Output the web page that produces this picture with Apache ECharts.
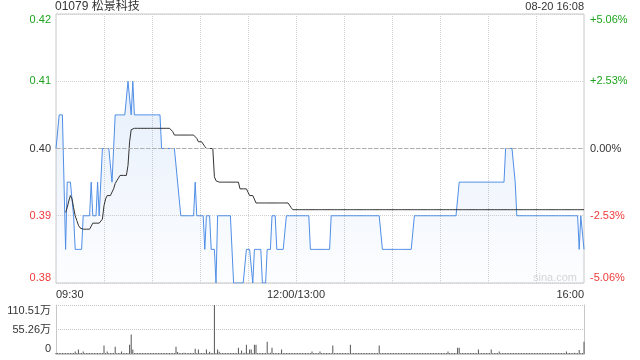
<!DOCTYPE html>
<html>
<head>
<meta charset="utf-8">
<script src="https://cdn.jsdelivr.net/npm/echarts@6/dist/echarts.min.js"></script>
<style>html,body{margin:0;padding:0;background:#fff}#c{width:640px;height:360px}</style>
</head>
<body>
<div id="c"></div>
<script>
const titleText = '01079 松景科技';
const stampText = '08-20 16:08';
const prevClose = 0.40;
const priceTicks = [0.38, 0.39, 0.40, 0.41, 0.42];
const pctLabels = ['-5.06%', '-2.53%', '0.00%', '+2.53%', '+5.06%'];
const volTickLabels = ['0', '55.26万', '110.51万'];
const volMax = 110.51;
const xTickIdx = [0, 150, 330];

// minute price, 09:30 .. 16:00 (331 points, 12:00/13:00 merged)
const price = [
0.40,0.40,0.405,0.405,0.405,0.405,0.385,0.395,0.395,0.395,
0.395,0.39,0.385,0.385,0.385,0.385,0.385,0.39,0.39,0.39,
0.39,0.39,0.395,0.39,0.39,0.39,0.395,0.39,0.39,0.40,
0.40,0.40,0.40,0.40,0.40,0.395,0.40,0.405,0.405,0.405,
0.405,0.405,0.405,0.405,0.405,0.41,0.41,0.405,0.41,0.405,
0.405,0.405,0.405,0.405,0.405,0.405,0.405,0.405,0.405,0.405,
0.405,0.405,0.405,0.405,0.405,0.405,0.40,0.40,0.40,0.40,
0.40,0.40,0.40,0.40,0.40,0.40,0.395,0.395,0.39,0.39,
0.39,0.39,0.39,0.39,0.39,0.39,0.39,0.395,0.39,0.39,
0.39,0.39,0.39,0.385,0.39,0.39,0.39,0.385,0.385,0.385,
0.38,0.39,0.39,0.39,0.39,0.39,0.39,0.39,0.39,0.39,
0.39,0.38,0.38,0.38,0.38,0.38,0.38,0.38,0.38,0.385,
0.385,0.385,0.385,0.38,0.385,0.385,0.385,0.385,0.385,0.38,
0.38,0.38,0.385,0.385,0.385,0.39,0.39,0.39,0.385,0.385,
0.385,0.385,0.385,0.385,0.39,0.39,0.39,0.39,0.39,0.39,
0.39,0.39,0.39,0.39,0.39,0.39,0.39,0.39,0.39,0.385,
0.385,0.385,0.385,0.385,0.385,0.385,0.385,0.385,0.385,0.385,
0.385,0.385,0.39,0.39,0.39,0.39,0.39,0.39,0.39,0.39,
0.39,0.39,0.39,0.39,0.39,0.39,0.39,0.39,0.39,0.39,
0.39,0.39,0.39,0.39,0.39,0.39,0.39,0.39,0.39,0.39,
0.39,0.39,0.39,0.39,0.385,0.385,0.385,0.385,0.385,0.385,
0.385,0.385,0.385,0.385,0.385,0.385,0.385,0.385,0.385,0.385,
0.385,0.385,0.385,0.385,0.39,0.39,0.39,0.39,0.39,0.39,
0.39,0.39,0.39,0.39,0.39,0.39,0.39,0.39,0.39,0.39,
0.39,0.39,0.39,0.39,0.39,0.39,0.39,0.39,0.39,0.39,
0.39,0.39,0.395,0.395,0.395,0.395,0.395,0.395,0.395,0.395,
0.395,0.395,0.395,0.395,0.395,0.395,0.395,0.395,0.395,0.395,
0.395,0.395,0.395,0.395,0.395,0.395,0.395,0.395,0.395,0.395,
0.395,0.40,0.40,0.40,0.40,0.40,0.40,0.395,0.39,0.39,
0.39,0.39,0.39,0.39,0.39,0.39,0.39,0.39,0.39,0.39,
0.39,0.39,0.39,0.39,0.39,0.39,0.39,0.39,0.39,0.39,
0.39,0.39,0.39,0.39,0.39,0.39,0.39,0.39,0.39,0.39,
0.39,0.39,0.39,0.39,0.39,0.39,0.39,0.385,0.39,0.39,
0.385
];

// average price line
const avgPrice = [
null,null,null,null,null,null,0.3905,0.3912,0.3922,0.3930,
0.3925,0.3912,0.3900,0.3893,0.3886,0.3882,0.3880,0.3880,0.3880,0.3880,
0.3880,0.3880,0.3880,0.3889,0.3889,0.3889,0.3889,0.3889,0.3889,0.3895,
0.3915,0.3925,0.3930,0.3930,0.3930,0.3930,0.3940,0.3948,0.3952,0.3956,
0.3960,0.3960,0.3960,0.3960,0.3960,0.3975,0.4010,0.4028,0.4030,0.4030,
0.4030,0.4030,0.4030,0.4030,0.4030,0.4030,0.4030,0.4030,0.4030,0.4030,
0.4030,0.4030,0.4030,0.4030,0.4030,0.4030,0.4030,0.4030,0.4030,0.4030,
0.4030,0.4030,0.4030,0.4025,0.4020,0.4020,0.4020,0.4020,0.4020,0.4020,
0.4020,0.4020,0.4020,0.4020,0.4020,0.4020,0.4020,0.4020,0.4015,0.4010,
0.4010,0.4010,0.4010,0.4003,0.4000,0.4000,0.4000,0.4000,0.4000,0.3958,
0.3952,0.3950,0.3950,0.3950,0.3950,0.3950,0.3950,0.3950,0.3950,0.3950,
0.3950,0.3950,0.3950,0.3950,0.3950,0.3940,0.3940,0.3940,0.3940,0.3940,
0.3935,0.3930,0.3930,0.3930,0.3930,0.3919,0.3919,0.3919,0.3919,0.3919,
0.3919,0.3919,0.3919,0.3919,0.3919,0.3919,0.3919,0.3919,0.3919,0.3919,
0.3919,0.3919,0.3919,0.3919,0.3919,0.3919,0.3919,0.3912,0.3909,0.3909,
0.3909,0.3909,0.3909,0.3909,0.3909,0.3909,0.3909,0.3909,0.3909,0.3909,
0.3909,0.3909,0.3909,0.3909,0.3909,0.3909,0.3909,0.3909,0.3909,0.3909,
0.3909,0.3909,0.3909,0.3909,0.3909,0.3909,0.3909,0.3909,0.3909,0.3909,
0.3909,0.3909,0.3909,0.3909,0.3909,0.3909,0.3909,0.3909,0.3909,0.3909,
0.3909,0.3909,0.3909,0.3909,0.3909,0.3909,0.3909,0.3909,0.3909,0.3909,
0.3909,0.3909,0.3909,0.3909,0.3909,0.3909,0.3909,0.3909,0.3909,0.3909,
0.3909,0.3909,0.3909,0.3909,0.3909,0.3909,0.3909,0.3909,0.3909,0.3909,
0.3909,0.3909,0.3909,0.3909,0.3909,0.3909,0.3909,0.3909,0.3909,0.3909,
0.3909,0.3909,0.3909,0.3909,0.3909,0.3909,0.3909,0.3909,0.3909,0.3909,
0.3909,0.3909,0.3909,0.3909,0.3909,0.3909,0.3909,0.3909,0.3909,0.3909,
0.3909,0.3909,0.3909,0.3909,0.3909,0.3909,0.3909,0.3909,0.3909,0.3909,
0.3909,0.3909,0.3909,0.3909,0.3909,0.3909,0.3909,0.3909,0.3909,0.3909,
0.3909,0.3909,0.3909,0.3909,0.3909,0.3909,0.3909,0.3909,0.3909,0.3909,
0.3909,0.3909,0.3909,0.3909,0.3909,0.3909,0.3909,0.3909,0.3909,0.3909,
0.3909,0.3909,0.3909,0.3909,0.3909,0.3909,0.3909,0.3909,0.3909,0.3909,
0.3909,0.3909,0.3909,0.3909,0.3909,0.3909,0.3909,0.3909,0.3909,0.3909,
0.3909,0.3909,0.3909,0.3909,0.3909,0.3909,0.3909,0.3909,0.3909,0.3909,
0.3909,0.3909,0.3909,0.3909,0.3909,0.3909,0.3909,0.3909,0.3909,0.3909,
0.3909
];

// minute volume, 万股
const volume = [
1.2,0.8,1.5,0.6,1.0,0.9,2.0,1.1,0.7,1.3,
0.9,1.4,5.5,1.0,10,1.2,0.8,5.5,1.1,0.6,
1.0,1.3,0.9,1.2,0.7,1.5,1.0,0.8,1.2,0.9,
19,1.1,5.5,0.8,1.3,1.0,0.7,16.5,1.2,0.9,
1.0,5.5,0.8,1.2,1.4,0.9,21,44,10,1.1,
0.8,1.0,1.3,0.7,1.1,0.9,1.2,0.6,1.0,1.4,
0.9,1.2,0.8,1.0,1.3,0.7,1.1,0.9,1.2,0.8,
1.0,1.3,0.7,1.1,0.9,16.5,4.5,1.0,1.2,0.8,
3.0,1.1,0.9,1.3,0.7,1.0,1.2,12,0.8,10,
1.1,0.9,1.3,1.0,10,0.8,5,1.2,0.9,110.51,
1.1,10,5,0.9,1.3,0.7,1.1,1.0,0.8,1.2,
0.9,1.3,1.0,0.7,14,1.1,8,1.2,3.0,21,
1.0,10,10,2.5,21,21,1.3,0.8,1.1,0.9,
2.0,1.0,27.5,1.2,3.0,14,1.1,0.8,1.3,2.5,
1.0,10,0.9,1.2,0.8,2.5,1.1,0.7,1.3,1.0,
0.9,1.2,0.8,1.1,1.0,1.3,0.7,2.0,1.2,0.9,
5.5,1.0,1.3,0.8,1.1,5.5,0.9,1.2,0.7,1.0,
1.3,0.8,1.1,19,0.9,1.2,1.0,0.7,1.3,0.9,
1.1,0.8,1.2,1.0,21,0.9,1.3,0.7,1.1,1.0,
0.8,1.2,0.9,1.3,1.0,0.7,1.1,0.9,1.2,0.8,
1.0,1.3,19,0.9,1.2,2.0,1.1,0.8,1.3,1.0,
0.9,1.2,0.7,1.1,1.0,1.3,0.8,1.2,0.9,1.1,
1.0,0.8,1.3,0.9,1.2,1.0,0.7,1.1,1.3,0.9,
1.2,0.8,1.0,1.1,0.9,1.3,2.0,0.7,1.2,1.0,
0.9,1.1,1.3,0.8,1.2,5.5,1.0,0.9,1.3,1.1,
0.8,14,14,1.2,1.0,2.5,0.9,1.3,1.1,0.7,
1.2,1.0,0.9,1.3,10,0.8,1.1,2.0,1.2,0.9,
1.0,1.3,10,0.8,1.1,0.9,1.2,5.5,1.0,0.7,
1.3,2.5,1.1,0.9,1.2,1.0,0.8,1.3,0.9,1.1,
1.0,1.2,0.8,1.1,0.9,1.3,1.0,0.7,1.2,0.9,
1.1,1.0,1.3,0.8,1.2,0.9,1.0,1.1,0.7,1.3,
0.9,1.2,1.0,0.8,1.1,1.3,0.9,2.5,1.0,5.5,
1.2,0.8,1.1,0.9,3.0,1.0,1.3,9,1.1,0.8,
27.5
];

// minute categories
const cats = [];
function pad(n){return (n<10?'0':'')+n;}
for (let t = 9*60+30; t < 12*60; t++) cats.push(pad(Math.floor(t/60))+':'+pad(t%60));
cats.push('12:00/13:00');
for (let t = 13*60+1; t <= 16*60; t++) cats.push(pad(Math.floor(t/60))+':'+pad(t%60));

const FONT = '"Liberation Sans", Arial, "Noto Sans CJK SC", sans-serif';
const GREEN = '#1ea51e';
const RED = '#f03a3a';
const DARK = '#333333';
const GRIDC = '#c8c8c8';

function priceLabel(v){
  const s = v.toFixed(2);
  if (v > prevClose + 1e-6) return '{g|' + s + '}';
  if (v < prevClose - 1e-6) return '{r|' + s + '}';
  return '{k|' + s + '}';
}
function pctLabel(v){
  let idx = -1;
  for (let i = 0; i < priceTicks.length; i++) if (Math.abs(priceTicks[i]-v) < 1e-6) idx = i;
  if (idx < 0) return '';
  const s = pctLabels[idx];
  if (v > prevClose + 1e-6) return '{g|' + s + '}';
  if (v < prevClose - 1e-6) return '{r|' + s + '}';
  return '{k|' + s + '}';
}
const rich = {g:{color:GREEN, fontSize:11, fontFamily:FONT}, r:{color:RED, fontSize:11, fontFamily:FONT}, k:{color:DARK, fontSize:11, fontFamily:FONT}};

const chart = echarts.init(document.getElementById('c'), null, {renderer:'canvas'});
chart.setOption({
  animation: false,
  backgroundColor: '#fff',
  textStyle: {fontFamily: FONT},
  graphic: [
    {type:'text', left:55, top:1, style:{text:titleText, fill:DARK, font:'12px ' + FONT}},
    {type:'text', right:56, top:1, style:{text:stampText, fill:DARK, font:'11px ' + FONT}},
    {type:'text', left:533, top:272, z:1, style:{text:'sina.com', fill:'#d6d6d6', font:'11px ' + FONT}}
  ],
  grid: [
    {left:56, right:56, top:14, height:269, show:true, borderColor:GRIDC, borderWidth:1, backgroundColor:'rgba(0,0,0,0)'},
    {left:56, right:56, top:305, height:49}
  ],
  xAxis: [
    {type:'category', gridIndex:0, data:cats, boundaryGap:false,
     axisLine:{show:false}, axisTick:{show:false},
     axisLabel:{interval:function(i){return xTickIdx.indexOf(i) >= 0;}, color:DARK, fontSize:11, margin:6,
                alignMinLabel:'left', alignMaxLabel:'right', fontFamily:FONT},
     splitLine:{show:true, interval:function(i){return i>0 && i<330 && i%30===0;}, lineStyle:{color:'#d0d0d0', type:'dotted', width:1}}},
    {type:'category', gridIndex:1, data:cats, boundaryGap:false,
     axisLine:{show:true, lineStyle:{color:GRIDC}}, axisTick:{show:false}, axisLabel:{show:false}, splitLine:{show:false}}
  ],
  yAxis: [
    {type:'value', gridIndex:0, min:priceTicks[0], max:priceTicks[priceTicks.length-1], interval:0.01, position:'left',
     axisLine:{show:false}, axisTick:{show:false},
     axisLabel:{formatter:priceLabel, rich:rich, margin:5, verticalAlignMinLabel:'bottom', verticalAlignMaxLabel:'top'},
     splitLine:{show:true, lineStyle:{color:'#d0d0d0', type:'dotted', width:1}}},
    {type:'value', gridIndex:0, min:priceTicks[0], max:priceTicks[priceTicks.length-1], interval:0.01, position:'right',
     axisLine:{show:false}, axisTick:{show:false},
     axisLabel:{formatter:pctLabel, rich:rich, margin:6, verticalAlignMinLabel:'bottom', verticalAlignMaxLabel:'top'},
     splitLine:{show:false}},
    {type:'value', gridIndex:1, min:0, max:volMax, interval:volMax/2, position:'left',
     axisLine:{show:true, lineStyle:{color:GRIDC}}, axisTick:{show:false},
     axisLabel:{formatter:function(v, i){return volTickLabels[i];}, color:DARK, fontSize:11, margin:5,
                verticalAlignMinLabel:'bottom', verticalAlignMaxLabel:'top'},
     splitLine:{show:true, lineStyle:{color:'#c8c8c8', type:'dotted', width:1}}},
    {type:'value', gridIndex:1, min:0, max:volMax, interval:volMax/2, position:'right',
     axisLine:{show:true, lineStyle:{color:GRIDC}}, axisTick:{show:false}, axisLabel:{show:false}, splitLine:{show:false}}
  ],
  series: [
    {type:'line', xAxisIndex:0, yAxisIndex:0, data:price, symbol:'none', z:3,
     lineStyle:{color:'#4f8ee6', width:1},
     areaStyle:{origin:'start', color:new echarts.graphic.LinearGradient(0,0,0,1,[
       {offset:0, color:'rgba(79,142,230,0.20)'},{offset:1, color:'rgba(79,142,230,0.02)'}])},
     markLine:{silent:true, symbol:'none', label:{show:false},
       lineStyle:{color:'#b0b0b0', type:[4,2], width:1}, data:[{yAxis:prevClose}]}},
    {type:'line', xAxisIndex:0, yAxisIndex:0, data:avgPrice, symbol:'none', z:4, connectNulls:false,
     lineStyle:{color:'#333', width:1}},
    {type:'bar', xAxisIndex:1, yAxisIndex:2, data:volume, barWidth:1, barMinHeight:1,
     itemStyle:{color:'#555'}}
  ]
});
</script>
</body>
</html>
